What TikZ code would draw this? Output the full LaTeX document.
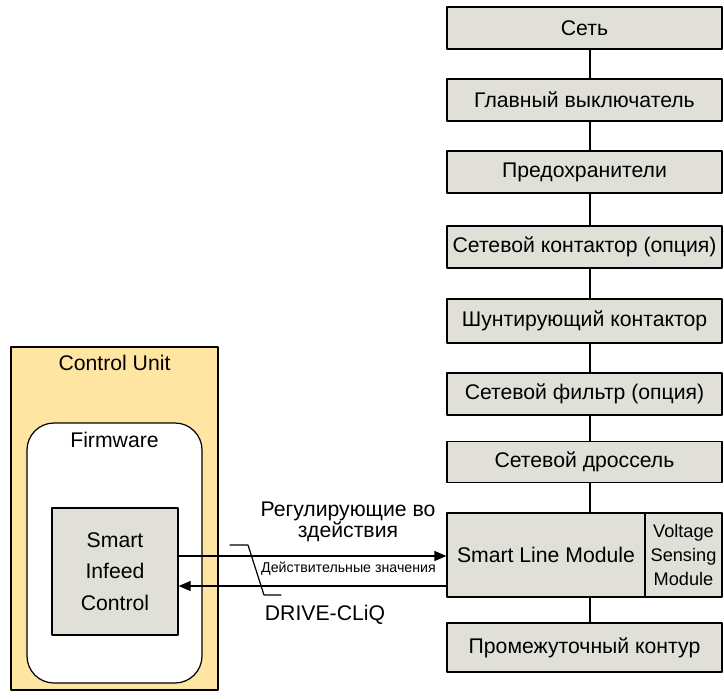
\documentclass[tikz,border=0pt]{standalone}
\usepackage{fontspec}
\setmainfont{Liberation Sans}
\usetikzlibrary{arrows.meta}
\usetikzlibrary{calc}
\definecolor{boxgray}{RGB}{224,223,216}
\definecolor{cuyellow}{RGB}{255,229,162}
\newcommand{\fs}[2]{\fontsize{#1}{#2}\selectfont}

\begin{document}
\begin{tikzpicture}[line cap=round,line join=round,>={Triangle[length=6pt,width=5pt]},x=0.5pt,y=-0.5pt,
  chainbox/.style={draw,line width=0.6pt,fill=boxgray,minimum width=137.5pt,minimum height=21pt,inner sep=0pt,font=\fs{10.6}{12.7}},
  thinline/.style={line width=0.6pt}]
\useasboundingbox (0,0) rectangle (724,698);
%\clip (0,0) rectangle (724,698);

% control unit side
\node (cu) [draw,line width=0.6pt,fill=cuyellow,minimum width=103.5pt,minimum height=171.5pt,inner sep=0pt] at (114.5,518.5) {};
\node (cutext) [font=\fs{10.6}{12.7}] at (114.5,363) {Control Unit};
\node (fw) [draw,line width=0.6pt,fill=white,rounded corners=13.5pt,minimum width=87.5pt,minimum height=130pt,inner sep=0pt] at (114.5,553) {};
\node (fwtext) [font=\fs{10.6}{12.7}] at (114.5,440) {Firmware};
\node (sic) [draw,line width=0.6pt,fill=boxgray,minimum width=63pt,minimum height=63.5pt,inner sep=0pt,align=center,font=\fs{10.6}{15.75}] at (115,571.5) {Smart\\Infeed\\Control};

% power chain
\coordinate (spine) at (590,0);
\node (set)   [chainbox] at (584.5,28)  {Сеть};
\node (glav)  [chainbox] at (584.5,100) {Главный выключатель};
\node (pred)  [chainbox] at (584.5,172) {Предохранители};
\node (kont)  [chainbox] at (584.5,247) {Сетевой контактор (опция)};
\node (shunt) [chainbox,minimum height=22pt] at (584.5,321) {Шунтирующий контактор};
\node (filt)  [chainbox] at (584.5,394) {Сетевой фильтр (опция)};
\node (dros)  [chainbox,minimum height=20.5pt] at (584.5,462) {Сетевой дроссель};
\node (slm)   [chainbox,minimum width=99pt,minimum height=42pt] at (546,555) {Smart Line Module};
\node (vsm)   [chainbox,minimum width=38.5pt,minimum height=42pt,align=center,font=\fs{9.1}{12}] at (683.5,555) {Voltage\\Sensing\\Module};
\node (prom)  [chainbox,minimum height=24.5pt] at (584.5,647.5) {Промежуточный контур};

\foreach \a/\b in {set/glav,glav/pred,pred/kont,kont/shunt,shunt/filt,filt/dros,dros/slm,slm/prom}
  \draw [thinline] (\a.south -| spine) -- (\b.north -| spine);

% DRIVE-CLiQ link
\coordinate (up) at (0,556);
\coordinate (dn) at (0,586);
\draw [thinline,->] (sic.east |- up) -- (slm.west |- up);
\draw [thinline,->] (slm.west |- dn) -- (sic.east |- dn);
\draw [thinline] (230,545) -- (248,545) -- (264,595) -- (281,595);

\node (stell) [align=center,font=\fs{10.6}{10.8}] at (348,522) {Регулирующие во\\здействия};
\node (ist) [font=\fs{7.1}{8.5}] at (348.5,569) {Действительные значения};
\node (dcq) [font=\fs{10.6}{12.7}] at (325,615) {DRIVE-CLiQ};
\end{tikzpicture}
\end{document}
